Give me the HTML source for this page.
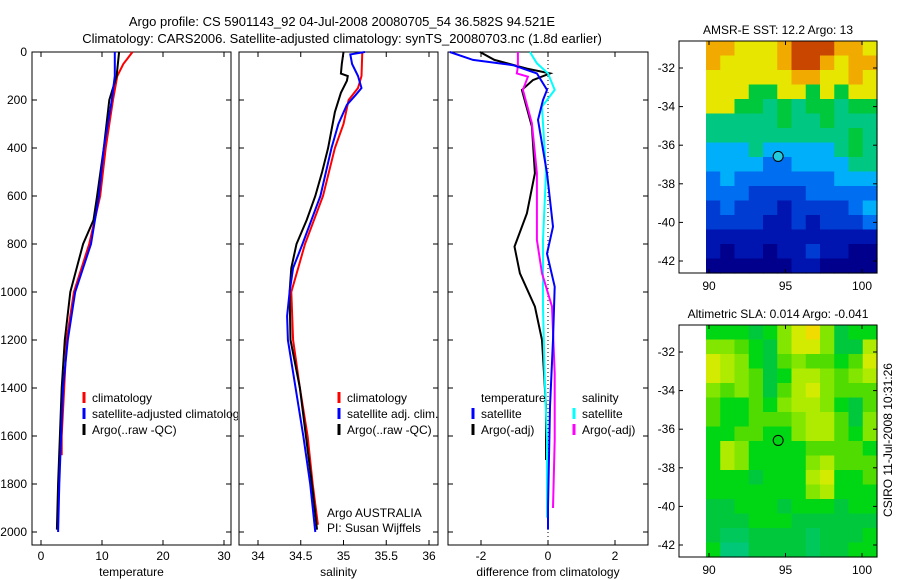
<!DOCTYPE html>
<html><head><meta charset="utf-8"><style>
body{margin:0;background:#fff;}
svg{display:block;font-family:"Liberation Sans",sans-serif;font-size:12px;}
</style></head><body>
<svg id="c" width="900" height="580" xmlns="http://www.w3.org/2000/svg">
<text x="342" y="26" text-anchor="middle" font-size="13">Argo profile: CS 5901143_92 04-Jul-2008 20080705_54 36.582S 94.521E</text>
<text x="342" y="43" text-anchor="middle" font-size="13">Climatology: CARS2006. Satellite-adjusted climatology: synTS_20080703.nc (1.8d earlier)</text>
<g id="g"></g>
<text transform="translate(892,440) rotate(-90)" text-anchor="middle">CSIRO 11-Jul-2008 10:31:26</text>
</svg>
<script>
// ---- data ----
const tClimD=[0,50,100,200,400,600,800,1000,1200,1400,1600,1680];
const tClim=[15.0,13.5,12.5,11.8,10.6,9.7,7.9,5.4,4.2,3.8,3.4,3.4];
const tArgoD=[0,100,200,400,600,700,800,1000,1200,1400,1600,1800,1990];
const tArgo=[12.8,12.4,11.2,10.3,9.2,8.6,6.9,4.8,3.9,3.4,3.1,2.8,2.6];
const tSatD=[0,100,200,400,600,800,1000,1200,1400,1600,1800,2000];
const tSat=[12.1,12.1,11.6,10.3,9.5,8.2,5.6,4.4,3.6,3.3,3.0,2.8];
const sClimD=[0,100,150,200,300,400,600,800,900,1000,1200,1400,1600,1800,1970];
const sClim=[35.22,35.21,35.17,35.06,35.0,34.9,34.76,34.55,34.47,34.39,34.41,34.49,34.58,34.64,34.7];
const sSatD=[0,10,50,100,150,180,220,300,400,600,800,900,1000,1100,1200,1400,1600,1800,2000];
const sSat=[35.25,35.08,35.1,35.17,35.21,35.14,35.04,34.94,34.86,34.73,34.52,34.41,34.37,34.34,34.35,34.44,34.53,34.61,34.67];
const sArgoD=[0,50,90,100,120,170,250,400,500,600,700,800,900,1000,1200,1400,1600,1800,1990];
const sArgo=[35.0,34.98,34.97,35.05,35.04,34.97,34.9,34.82,34.75,34.67,34.57,34.45,34.39,34.37,34.38,34.49,34.56,34.63,34.69];
const dTSatD=[0,33,55,89,158,200,283,505,728,840,978,1200,1478,1895,1990];
const dTSat=[-2.93,-2.24,-1.04,-0.33,-0.03,-0.15,-0.3,-0.03,0.15,-0.03,0.2,0.15,0.06,0.0,0.0];
const dTArgoD=[0,33,69,89,117,158,311,505,672,811,922,1061,1200,1478,1700];
const dTArgo=[-2.03,-1.6,-0.63,0.06,-0.45,-0.78,-0.48,-0.39,-0.63,-1.0,-0.84,-0.39,-0.18,-0.06,-0.06];
const dSSatD=[0,47,89,158,228,505,783,1061,1339,1617,1940];
const dSSat=[-0.54,-0.33,0.0,0.2,-0.18,-0.06,-0.15,-0.15,-0.1,-0.03,-0.03];
const dSArgoD=[0,61,89,103,158,297,505,783,922,1061,1339,1617,1900];
const dSArgo=[-0.9,-0.9,-0.93,-0.6,-0.75,-0.48,-0.33,-0.33,-0.18,0.12,0.2,0.2,0.15];
const depthTicks=[0,200,400,600,800,1000,1200,1400,1600,1800,2000];
const tTicks=[0,10,20,30];
const sTicks=[34,34.5,35,35.5,36];
const sTickLabels=["34","34.5","35","35.5","36"];
const dTicks=[-2,0,2];
const lonTicks=[90,95,100];
const latTicks=[-32,-34,-36,-38,-40,-42];
const sstGrid=["887778999887","877778998788","777777887787","777667767677","776656566566","555556556555","555555555565","444544444565","444433444455","343333333444","333222233333","232221222234","222211212223","111111111111","101101121100","000000110000"];
const slaGrid=["444346896344","665436886337","876435655458","876534776567","656535786555","544546776435","544555677536","445544677546","476444455554","476444467555","444344478445","444444467444","334443444344","333444333333","322333323334","411333323344"];

// ---- helpers ----
const NS="http://www.w3.org/2000/svg",G=document.getElementById('g');
function mk(t,a,p){const e=document.createElementNS(NS,t);for(const k in a)e.setAttribute(k,a[k]);(p||G).appendChild(e);return e;}
const Y0=52,Y1=545,yD=d=>Y0+0.24*d;
function panel(x0,x1,xs,ticks,labels,xlabel,name){
  const g=mk('g',{});
  
  
  const r=mk('rect',{x:x0,y:Y0,width:x1-x0,height:Y1-Y0,fill:'none',stroke:'#000','stroke-width':1},g);
  
  
  depthTicks.forEach(d=>{const y=yD(d);
    mk('line',{x1:x0,x2:x0+5,y1:y,y2:y,stroke:'#000'},g);mk('line',{x1:x1,x2:x1-5,y1:y,y2:y,stroke:'#000'},g);});
  ticks.forEach((t,i)=>{const x=xs(t);
    mk('line',{x1:x,x2:x,y1:Y0,y2:Y0+5,stroke:'#000'},g);mk('line',{x1:x,x2:x,y1:Y1,y2:Y1-5,stroke:'#000'},g);
    const tx=mk('text',{x:x,y:Y1+15,'text-anchor':'middle'},g);tx.textContent=labels[i];
    
    });
  const xl=mk('text',{x:(x0+x1)/2,y:576,'text-anchor':'middle'},g);xl.textContent=xlabel;
  
  
  return g;
}
function line(g,xs,vals,deps,col,name,w){
  const pts=vals.map((v,i)=>xs(v).toFixed(1)+','+yD(deps[i]).toFixed(1)).join(' ');
  const p=mk('polyline',{points:pts,fill:'none',stroke:col,'stroke-width':w||2},g);
  
  
}
function legend(g,x,y,col,txt,name){
  mk('line',{x1:x,x2:x,y1:y-10,y2:y+1,stroke:col,'stroke-width':3},g);
  const t=mk('text',{x:x+8,y:y},g);t.textContent=txt;
  
  
}
depthTicks.forEach(d=>{const t=mk('text',{x:27,y:yD(d)+4,'text-anchor':'end'});t.textContent=d;
  
  });

// panel 1
const xT=t=>41+6.1*t;
const p1=panel(32,231,xT,tTicks,tTicks.map(String),'temperature','temperature-panel');
line(p1,xT,tClim,tClimD,'#f00','temp-climatology-line');
line(p1,xT,tArgo,tArgoD,'#000','temp-argo-line');
line(p1,xT,tSat,tSatD,'#00f','temp-satellite-line');
const cp=mk('clipPath',{id:'cl1'});mk('rect',{x:0,y:0,width:238,height:580},cp);
const lg1=mk('g',{'clip-path':'url(#cl1)'},p1);
legend(lg1,84,402,'#f00','climatology','legend-climatology');
legend(lg1,84,418,'#00f','satellite-adjusted climatology','legend-satellite-adjusted');
legend(lg1,84,434,'#000','Argo(..raw -QC)','legend-argo');

// panel 2
const xS=s=>258+85.5*(s-34);
const p2=panel(239,438,xS,sTicks,sTickLabels,'salinity','salinity-panel');
line(p2,xS,sClim,sClimD,'#f00','sal-climatology-line');
line(p2,xS,sArgo,sArgoD,'#000','sal-argo-line');
line(p2,xS,sSat,sSatD,'#00f','sal-satellite-line');
legend(p2,339,402,'#f00','climatology','legend-climatology');
legend(p2,339,418,'#00f','satellite adj. clim.','legend-satellite');
legend(p2,339,434,'#000','Argo(..raw -QC)','legend-argo');
[['Argo AUSTRALIA',517],['PI: Susan Wijffels',532]].forEach(a=>{const t=mk('text',{x:327,y:a[1]},p2);t.textContent=a[0];
  
  });

// panel 3
const xDf=v=>548+33.5*v;
const p3=panel(448,648,xDf,dTicks,dTicks.map(String),'difference from climatology','difference-panel');
mk('line',{x1:xDf(0),x2:xDf(0),y1:Y0,y2:Y1,stroke:'#000','stroke-dasharray':'1,3'},p3);
line(p3,xDf,dTArgo,dTArgoD,'#000','diff-temp-argo-line');
line(p3,xDf,dSSat,dSSatD,'#0ff','diff-sal-satellite-line');
line(p3,xDf,dSArgo,dSArgoD,'#f0f','diff-sal-argo-line');
line(p3,xDf,dTSat,dTSatD,'#00f','diff-temp-satellite-line');
[['temperature',481],['salinity',582]].forEach(a=>{const t=mk('text',{x:a[1],y:402},p3);t.textContent=a[0];
  
  });
legend(p3,473,418,'#00f','satellite','legend-temp-satellite');
legend(p3,473,434,'#000','Argo(-adj)','legend-temp-argo');
legend(p3,574,418,'#0ff','satellite','legend-sal-satellite');
legend(p3,574,434,'#f0f','Argo(-adj)','legend-sal-argo');

// maps
const sstColors=[[0,0,140],[0,20,175],[0,60,210],[0,110,240],[0,175,250],[0,200,130],[0,200,60],[230,230,0],[240,170,0],[200,70,0]];
const slaColors=[[0,190,150],[0,200,120],[0,200,90],[0,200,60],[0,215,20],[80,220,0],[130,230,0],[175,235,0],[210,235,0],[240,220,0]];
const rgb=c=>`rgb(${c[0]},${c[1]},${c[2]})`;
function map(top,lat0y,lat1y,grid,cmap,title,name,cy){
  const g=mk('g',{});
  
  
  const bot=top+232,x0=679,x1=877,cx0=706;
  const rows=grid.length,cols=grid[0].length,cw=(x1-cx0)/cols,ch=(bot-top)/rows;
  grid.forEach((row,i)=>row.split('').forEach((c,j)=>{
    const r=mk('rect',{x:(cx0+j*cw).toFixed(2),y:(top+i*ch).toFixed(2),width:(cw+0.6).toFixed(2),height:(ch+0.6).toFixed(2),fill:cmap(+c)},g);
    
    }));
  mk('rect',{x:x0,y:top,width:x1-x0,height:bot-top,fill:'none',stroke:'#000'},g);
  const lx=l=>709+(l-90)*15.3;
  lonTicks.forEach(l=>{const x=lx(l);mk('line',{x1:x,x2:x,y1:top,y2:top+4,stroke:'#000'},g);mk('line',{x1:x,x2:x,y1:bot,y2:bot-4,stroke:'#000'},g);
    const t=mk('text',{x:x,y:bot+17,'text-anchor':'middle'},g);t.textContent=l;
    
    });
  const ly=l=>lat0y+(l+32)/(-10)*(lat1y-lat0y);
  latTicks.forEach(l=>{const y=ly(l);mk('line',{x1:x0,x2:x0+4,y1:y,y2:y,stroke:'#000'},g);mk('line',{x1:x1,x2:x1-4,y1:y,y2:y,stroke:'#000'},g);
    const t=mk('text',{x:675,y:y+4,'text-anchor':'end'},g);t.textContent=l;
    
    });
  const c=mk('circle',{cx:lx(94.521),cy:ly(-36.582),r:5,fill:cy,stroke:'#000'},g);
  
  
  const t=mk('text',{x:778,y:top-7,'text-anchor':'middle'},g);t.textContent=title;
  
  
}
map(41,68,261,sstGrid,d=>rgb(sstColors[d]),'AMSR-E SST: 12.2 Argo: 13','sst-map','#2cd');
map(325,352,545,slaGrid,d=>rgb(slaColors[d]),'Altimetric SLA: 0.014 Argo: -0.041','sla-map','none');
</script>
</body></html>
